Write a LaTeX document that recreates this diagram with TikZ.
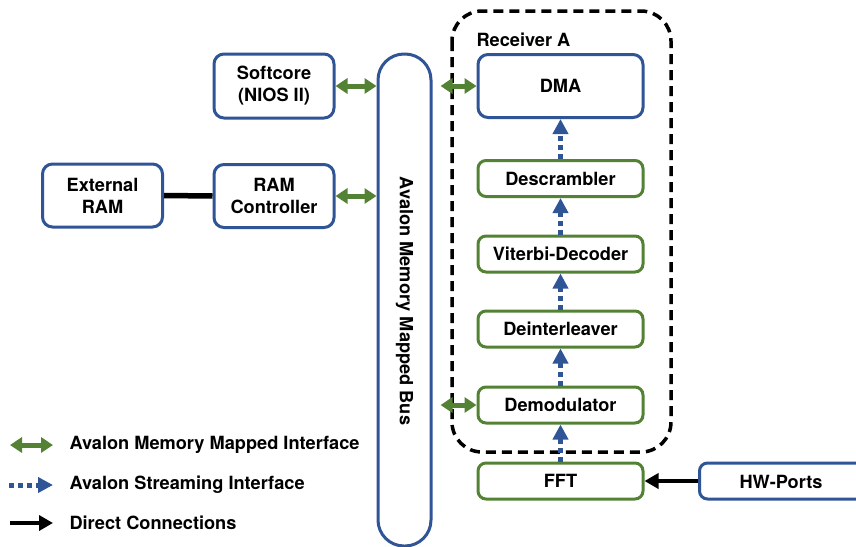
\documentclass[tikz,border=0pt]{standalone}
\usepackage{fontspec}
\setmainfont{TeX Gyre Heros}
\usetikzlibrary{arrows.meta,calc}
\definecolor{busblue}{HTML}{2F5597}
\definecolor{mmgreen}{HTML}{548235}
\tikzset{
  lbl/.style={font=\fontsize{18.2}{22}\selectfont\bfseries, text=black},
  bluebox/.style={lbl, draw=busblue, line width=3pt, fill=white, rounded corners=10pt, align=center, inner sep=0pt},
  greenbox/.style={lbl, draw=mmgreen, line width=3pt, fill=white, rounded corners=8pt, align=center, inner sep=0pt},
  mmlink/.style={draw=mmgreen, line width=5pt, {Triangle[width=15pt,length=12pt]}-{Triangle[width=15pt,length=12pt]}},
  stlink/.style={draw=busblue, line width=5pt, dash pattern=on 5pt off 4pt, -{Triangle[width=15pt,length=15pt]}},
  directlink/.style={draw=black, line width=4.5pt, -{Triangle[width=15pt,length=14pt]}},
}
\begin{document}
\begin{tikzpicture}[x=1pt,y=-1pt]
\useasboundingbox (0,0) rectangle (856,546);

% Receiver A boundary
\draw[line width=3.5pt, dash pattern=on 10pt off 6pt, rounded corners=30pt] (452,11) rectangle (671,452);
\node[lbl, anchor=west] (rxlabel) at (473,40) {Receiver A};

% left-hand blocks
\node[bluebox, minimum width=120pt, minimum height=64pt] (softcore) at (274,86) {Softcore\\(NIOS II)};
\node[bluebox, minimum width=120pt, minimum height=63pt] (extram) at (102.5,195.5) {External\\RAM};
\node[bluebox, minimum width=120pt, minimum height=63pt] (ramctl) at (274,196) {RAM\\Controller};

% memory mapped bus
\node[draw=busblue, line width=3pt, fill=white, rounded corners=26pt, minimum width=53pt, minimum height=492pt, inner sep=0pt] (bus) at (404.5,300) {};
\node[lbl, rotate=-90] (buslabel) at (404.5,301) {Avalon Memory Mapped Bus};

% receiver chain
\node[bluebox, minimum width=165pt, minimum height=63pt] (dma) at (560.5,86) {DMA};
\node[greenbox, minimum width=165pt, minimum height=36pt] (descr) at (560.5,178.5) {Descrambler};
\node[greenbox, minimum width=165pt, minimum height=36pt] (viterbi) at (560.5,254) {Viterbi-Decoder};
\node[greenbox, minimum width=165pt, minimum height=36pt] (deint) at (560.5,329) {Deinterleaver};
\node[greenbox, minimum width=165pt, minimum height=36pt] (demod) at (560.5,405) {Demodulator};
\node[greenbox, minimum width=165pt, minimum height=36pt] (fft) at (560.5,481) {FFT};
\node[bluebox, minimum width=171pt, minimum height=36pt, rounded corners=8pt] (hw) at (785,481) {};
\node[lbl] (hwlabel) at (781,482) {HW-Ports};

% memory mapped links
\draw[mmlink] (softcore.east) -- (softcore.east -| bus.west);
\draw[mmlink] (ramctl.east) -- (ramctl.east -| bus.west);
\draw[mmlink] ([xshift=8pt]bus.east |- dma.west) -- (dma.west);
\draw[mmlink] ([xshift=8pt]bus.east |- demod.west) -- (demod.west);

% streaming links
\draw[stlink] (fft.north) -- (demod.south);
\draw[stlink] (demod.north) -- (deint.south);
\draw[stlink] (deint.north) -- (viterbi.south);
\draw[stlink] (viterbi.north) -- (descr.south);
\draw[stlink] (descr.north) -- (dma.south);

% direct connections
\draw[draw=black, line width=5.5pt] (extram.east) -- (ramctl.west);
\draw[directlink] (hw.west) -- (fft.east);

% legend
\coordinate (mmA) at (10,445);  \coordinate (mmB) at (53,445);
\coordinate (stA) at (9,485);   \coordinate (stB) at (53,485);
\coordinate (dcA) at (10,523);  \coordinate (dcB) at (53,523);
\draw[mmlink] (mmA) -- (mmB);
\draw[stlink, dash phase=0pt] (stA) -- (stB);
\draw[directlink] (dcA) -- (dcB);
\node[lbl, anchor=west] (legmm) at (66,445) {Avalon Memory Mapped Interface};
\node[lbl, anchor=west] (legst) at (66,485) {Avalon Streaming Interface};
\node[lbl, anchor=west] (legdc) at (66,523) {Direct Connections};
\end{tikzpicture}
\end{document}
